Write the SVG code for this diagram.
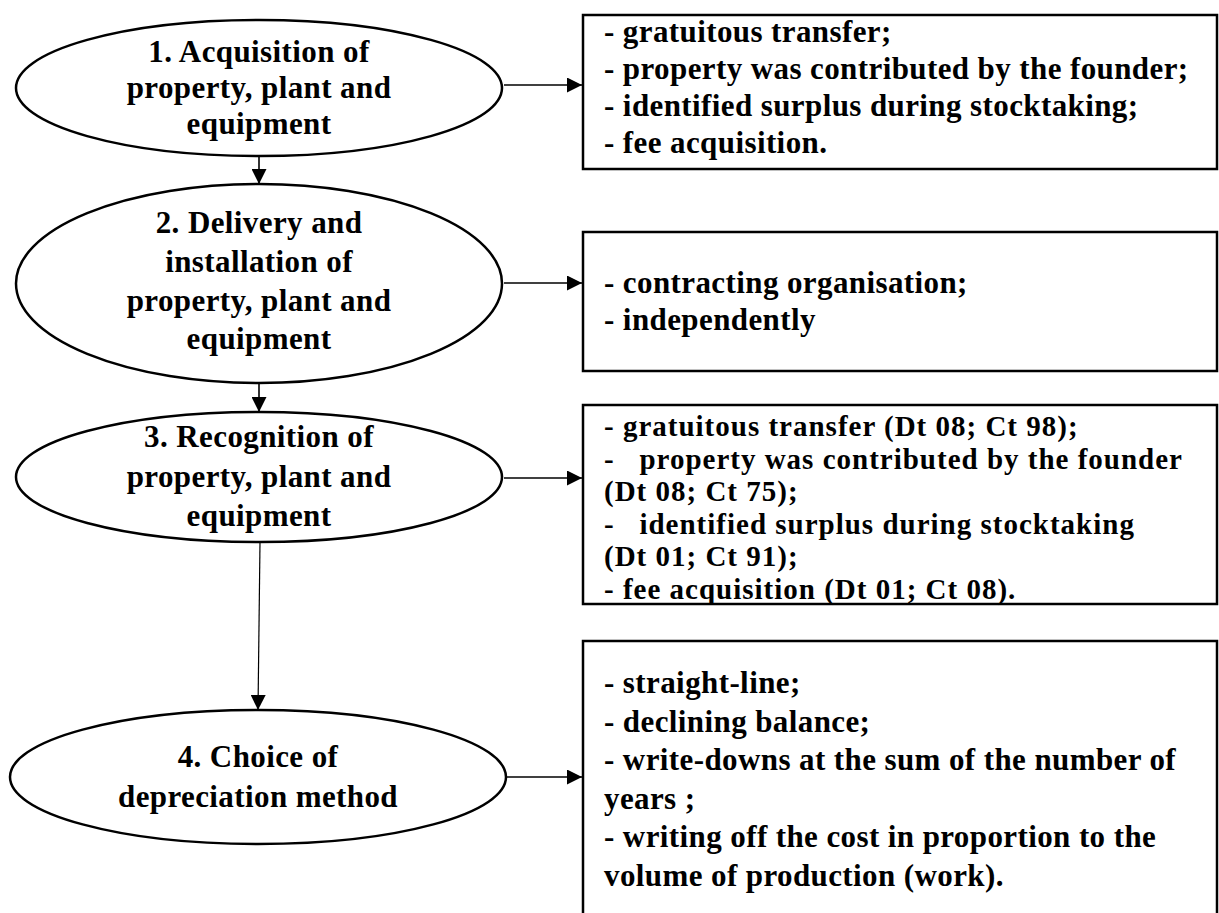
<svg xmlns="http://www.w3.org/2000/svg" width="1219" height="913" viewBox="0 0 1219 913">
<style>
.n{fill:#fff;stroke:#000;stroke-width:2.5}
.b{fill:#fff;stroke:#000;stroke-width:2.5}
.t{font-family:"Liberation Serif","Times New Roman",serif;font-weight:bold;font-size:31px;fill:#000;letter-spacing:0.4px}
.s{font-size:29px;letter-spacing:1px}
.c{text-anchor:middle}
.e{stroke:#000;stroke-width:1.6;fill:none;marker-end:url(#ah)}
</style>
<defs>
<marker id="ah" viewBox="0 0 10 10" refX="10" refY="5" markerWidth="15" markerHeight="15" markerUnits="userSpaceOnUse" orient="auto">
<path d="M0,0 L10,5 L0,10 Z" fill="#000"/>
</marker>
</defs>
<rect width="1219" height="913" fill="#fff"/>
<g id="connectors">
<line class="e" x1="504" y1="85" x2="582" y2="85"/>
<line class="e" x1="259" y1="156" x2="259" y2="184"/>
<line class="e" x1="504" y1="283" x2="582" y2="283"/>
<line class="e" x1="259" y1="383" x2="259" y2="412"/>
<line class="e" x1="504" y1="478" x2="582" y2="478"/>
<line class="e" x1="260" y1="542" x2="258" y2="710" style="stroke-width:1.2"/>
<line class="e" x1="506" y1="777" x2="582" y2="777"/>
</g>
<g id="node1">
<ellipse class="n" cx="259" cy="88" rx="243" ry="68"/>
<text class="t c" x="259" y="62">1. Acquisition of</text>
<text class="t c" x="259" y="98">property, plant and</text>
<text class="t c" x="259" y="134">equipment</text>
</g>
<g id="box1">
<rect class="b" x="583" y="15" width="634" height="154"/>
<text class="t" x="604" y="42">- gratuitous transfer;</text>
<text class="t" x="604" y="79">- property was contributed by the founder;</text>
<text class="t" x="604" y="116">- identified surplus during stocktaking;</text>
<text class="t" x="604" y="153">- fee acquisition.</text>
</g>
<g id="node2">
<ellipse class="n" cx="259" cy="283.5" rx="243" ry="99.5"/>
<text class="t c" x="259" y="233">2. Delivery and</text>
<text class="t c" x="259" y="272">installation of</text>
<text class="t c" x="259" y="311">property, plant and</text>
<text class="t c" x="259" y="349">equipment</text>
</g>
<g id="box2">
<rect class="b" x="583" y="232" width="634" height="139"/>
<text class="t" x="604" y="293">- contracting organisation;</text>
<text class="t" x="604" y="330">- independently</text>
</g>
<g id="node3">
<ellipse class="n" cx="259" cy="477" rx="243" ry="65"/>
<text class="t c" x="259" y="447">3. Recognition of</text>
<text class="t c" x="259" y="487">property, plant and</text>
<text class="t c" x="259" y="526">equipment</text>
</g>
<g id="box3">
<rect class="b" x="583" y="405" width="634" height="199"/>
<text class="t s" x="604" y="436">- gratuitous transfer (Dt 08; Ct 98);</text>
<text class="t s" x="604" y="468.5" xml:space="preserve">-   property was contributed by the founder</text>
<text class="t s" x="604" y="501">(Dt 08; Ct 75);</text>
<text class="t s" x="604" y="533.5" xml:space="preserve">-   identified surplus during stocktaking</text>
<text class="t s" x="604" y="566">(Dt 01; Ct 91);</text>
<text class="t s" x="604" y="598.5">- fee acquisition (Dt 01; Ct 08).</text>
</g>
<g id="node4">
<ellipse class="n" cx="258" cy="777" rx="248" ry="67"/>
<text class="t c" x="258" y="767">4. Choice of</text>
<text class="t c" x="258" y="807">depreciation method</text>
</g>
<g id="box4">
<rect class="b" x="583" y="641" width="634" height="300"/>
<text class="t" x="604" y="693">- straight-line;</text>
<text class="t" x="604" y="732">- declining balance;</text>
<text class="t" x="604" y="770">- write-downs at the sum of the number of</text>
<text class="t" x="604" y="809">years ;</text>
<text class="t" x="604" y="847">- writing off the cost in proportion to the</text>
<text class="t" x="604" y="886">volume of production (work).</text>
</g>
</svg>
